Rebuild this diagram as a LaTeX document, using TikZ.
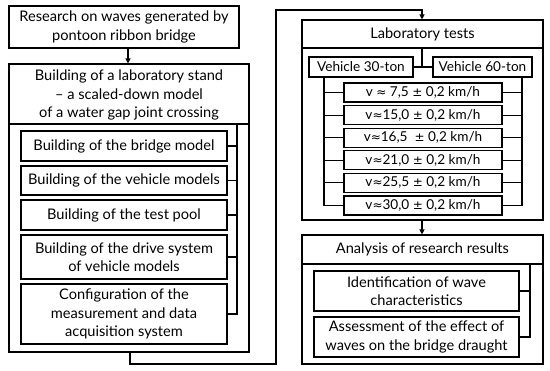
\documentclass[tikz,border=0pt]{standalone}
\usepackage{fontspec}
\setmainfont{Lato}
\newfontfamily\symf{DejaVu Sans}
\newcommand{\apx}{{\symf\fontsize{12}{12}\selectfont ≈}}
\newcommand{\pmx}{{\symf\fontsize{12}{12}\selectfont ±}}
\usetikzlibrary{arrows.meta}
\begin{document}
\begin{tikzpicture}[x=1pt,y=-1pt,
  lw/.style={line width=1.1pt},
  bx/.style={draw, lw, inner sep=0pt, align=center, font=\fontsize{14.6}{18.5}\selectfont},
  sbx/.style={bx, font=\fontsize{13.6}{16}\selectfont},
  txt/.style={inner sep=0pt, align=center, font=\fontsize{14.6}{18.5}\selectfont},
  ln/.style={draw, lw},
  arr/.style={draw, lw, -{Triangle[length=5pt,width=5pt]}}]
\useasboundingbox (0,0) rectangle (550,371);
% left column
\node[bx, minimum width=230pt, minimum height=42pt] (top) at (124,27) {Research on waves generated by\\pontoon ribbon bridge};
\node[bx, minimum width=240pt, minimum height=288pt] (build) at (129,208) {};
\coordinate (bhl) at (9,124); \coordinate (bhr) at (249,124);
\draw[ln] (bhl) -- (bhr);
\node[txt] (bhead) at (129,95) {Building of a laboratory stand\\– a scaled-down model\\of a water gap joint crossing};
\node[bx, minimum width=206pt, minimum height=30pt] (b1) at (124,146) {Building of the bridge model};
\node[bx, minimum width=206pt, minimum height=29pt] (b2) at (124,180.5) {Building of the vehicle models};
\node[bx, minimum width=206pt, minimum height=30pt] (b3) at (124,215) {Building of the test pool};
\node[bx, minimum width=206pt, minimum height=44pt] (b4) at (124,257) {Building of the drive system\\of vehicle models};
\node[bx, minimum width=206pt, minimum height=60pt] (b5) at (124,314) {Configuration of the\\measurement and data\\acquisition system};
\coordinate (bbr) at (237,124);
\draw[ln] (bbr) |- (b5.east);
\foreach \n in {b1,b2,b3,b4} \draw[ln] (\n.east) -- (bbr |- \n.east);
\coordinate (at1) at (128,48);
\draw[arr] (at1) -- (at1 |- build.north);
% connector
\coordinate (c0) at (130,352);
\coordinate (c1) at (130,364);
\coordinate (c2) at (276,364);
\coordinate (c3) at (276,10);
\coordinate (c4) at (422,10);
% right column
\node[bx, minimum width=241pt, minimum height=200pt] (lab) at (422.5,120) {};
\draw[ln] (lab.west |- 0,48) -- (lab.east |- 0,48);
\node[txt] (lhead) at (422.5,34) {Laboratory tests};
\draw[arr] (c0) -- (c1) -- (c2) -- (c3) -- (c4) -- (c4 |- lab.north);
\node[sbx, minimum width=104pt, minimum height=20pt] (v30) at (361,67) {Vehicle 30-ton};
\node[sbx, minimum width=99pt, minimum height=20pt] (v60) at (482.5,67) {Vehicle 60-ton};
\coordinate (lh) at (422,48);
\draw[ln] (lh) -- (lh |- v30.east);
\draw[ln] (v30.east) -- (v60.west);
\node[sbx, minimum width=158pt, minimum height=19pt] (s1) at (423,92.5) {v \apx{} 7,5 \pmx{} 0,2 km/h};
\node[sbx, minimum width=158pt, minimum height=19pt] (s2) at (423,115.1) {v\apx15,0 \pmx{} 0,2 km/h};
\node[sbx, minimum width=158pt, minimum height=19pt] (s3) at (423,137.7) {v\apx16,5 \ \pmx{} 0,2 km/h};
\node[sbx, minimum width=158pt, minimum height=19pt] (s4) at (423,160.3) {v\apx21,0 \pmx{} 0,2 km/h};
\node[sbx, minimum width=158pt, minimum height=19pt] (s5) at (423,182.9) {v\apx25,5 \pmx{} 0,2 km/h};
\node[sbx, minimum width=158pt, minimum height=19pt] (s6) at (423,205.5) {v\apx30,0 \pmx{} 0,2 km/h};
\coordinate (lb) at (324,77);
\coordinate (rb) at (522,77);
\draw[ln] (lb) |- (s6.west);
\draw[ln] (rb) |- (s6.east);
\foreach \n in {s1,s2,s3,s4,s5} {
  \draw[ln] (\n.west) -- (lb |- \n.west);
  \draw[ln] (\n.east) -- (rb |- \n.east);
}
\node[bx, minimum width=241pt, minimum height=129pt] (ana) at (422.5,299.5) {};
\draw[ln] (ana.west |- 0,264) -- (ana.east |- 0,264);
\node[txt] (ahead) at (422.5,249.5) {Analysis of research results};
\coordinate (a2) at (422,220);
\draw[arr] (a2) -- (a2 |- ana.north);
\node[bx, minimum width=205pt, minimum height=40pt] (i1) at (416.5,291) {Identification of wave\\characteristics};
\node[bx, minimum width=205pt, minimum height=40pt] (i2) at (416.5,337) {Assessment of the effect of\\waves on the bridge draught};
\coordinate (ab) at (530,264);
\draw[ln] (ab) |- (i2.east);
\draw[ln] (i1.east) -- (ab |- i1.east);
\end{tikzpicture}
\end{document}
